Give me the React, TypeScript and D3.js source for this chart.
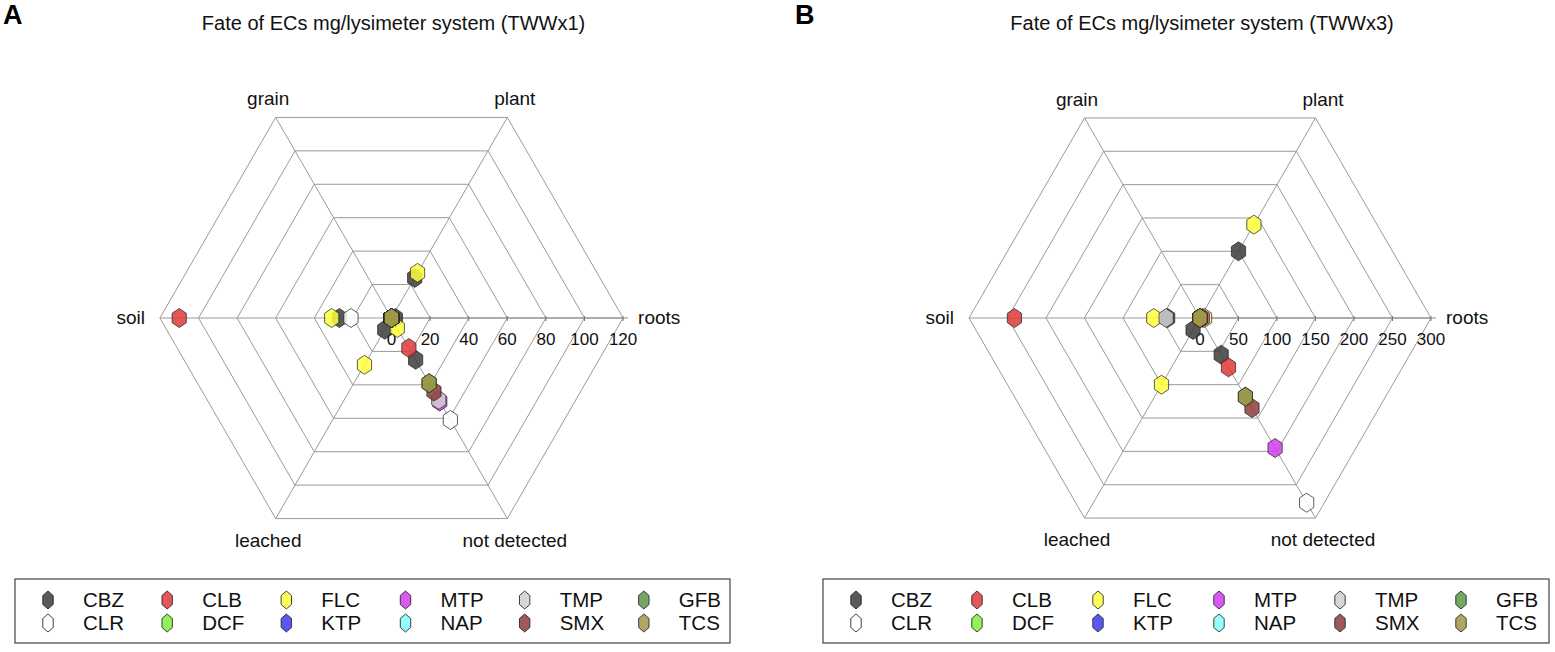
import React from "react";
import * as d3 from "d3";

const axes = ["roots", "plant", "grain", "soil", "leached", "not detected"];
const compounds = ["CBZ", "CLR", "CLB", "DCF", "FLC", "KTP", "MTP", "NAP", "TMP", "SMX", "GFB", "TCS"];
const colors = ["#3c3c3c", "#ffffff", "#e03a3a", "#80f040", "#ffff3c", "#3c3cf0", "#d43cf0", "#80ffff", "#d0d0d0", "#8e3c3c", "#5c9848", "#a09848"];

// Panel A (TWWx1) values per axis, in compound order
const rootsA = [2, 0, 0, 0, 0, 0, 0, 0, 0, 0, 0, 0];
const plantA = [24, 0, 0, 0, 27, 0, 0, 0, 0, 0, 0, 0];
const grainA = [0, 0, 0, 0, 0, 0, 0, 0, 0, 0, 0, 0];
const soilA = [27, 21, 110, 0, 31, 0, 0, 0, 0, 0, 0, 0];
const leachedA = [7, 0, 0, 0, 28, 0, 0, 0, 0, 0, 0, 0];
const notDetectedA = [25, 61, 18, 0, 6, 0, 50, 0, 49, 44, 39, 39];
const ticksA = [0, 20, 40, 60, 80, 100, 120];

// Panel B (TWWx3)
const rootsB = [0, 0, 0, 0, 6, 0, 3, 0, 0, 0, 0, 0];
const plantB = [100, 0, 0, 0, 140, 0, 0, 0, 0, 0, 0, 0];
const grainB = [0, 0, 0, 0, 0, 0, 0, 0, 0, 0, 0, 0];
const soilB = [42, 0, 241, 0, 60, 0, 0, 0, 44, 0, 0, 0];
const leachedB = [18, 0, 0, 0, 100, 0, 0, 0, 0, 0, 0, 0];
const notDetectedB = [55, 277, 74, 0, 0, 0, 195, 0, 0, 135, 118, 118];
const ticksB = [0, 50, 100, 150, 200, 250, 300];

const FONT = "'Liberation Sans', Arial, Helvetica, sans-serif";

function hexPath(x: number, y: number, rx: number, ry: number) {
  const pts: [number, number][] = d3.range(6).map((i) => {
    const a = Math.PI / 2 - (i * Math.PI) / 3;
    return [x + rx * Math.cos(a), y - ry * Math.sin(a)];
  });
  return "M" + pts.map((p) => p[0].toFixed(2) + "," + p[1].toFixed(2)).join("L") + "Z";
}

type PanelProps = {
  letter: string;
  letterX: number;
  title: string;
  cx: number;
  cy: number;
  R: number;
  ticks: number[];
  data: number[][];
  legendX: number;
  legendW: number;
};

function Panel({ letter, letterX, title, cx, cy, R, ticks, data, legendX, legendW }: PanelProps) {
  const max = ticks[ticks.length - 1];
  const r = d3.scaleLinear().domain([0, max]).range([0, R]);
  const ang = (i: number) => (i * Math.PI) / 3;
  const pt = (i: number, v: number): [number, number] => [cx + r(v) * Math.cos(ang(i)), cy - r(v) * Math.sin(ang(i))];
  const ring = (v: number) =>
    "M" + axes.map((_, i) => pt(i, v).map((n) => n.toFixed(2)).join(",")).join("L") + "Z";

  const labelPos = (i: number): { x: number; y: number; anchor: string } => {
    const [vx, vy] = pt(i, max);
    const off = 15;
    const x = vx + off * Math.cos(ang(i));
    const y = vy - off * Math.sin(ang(i));
    if (i === 0) return { x, y: y + 6, anchor: "start" };
    if (i === 3) return { x, y: y + 6, anchor: "end" };
    if (i === 1 || i === 2) return { x, y: y + 1, anchor: "middle" };
    return { x, y: y + 15, anchor: "middle" };
  };

  const legTop = 579;
  const legH = 64;

  return (
    <g>
      <text x={letterX} y={24} fontFamily={FONT} fontWeight="bold" fontSize={27} fill="#000">
        {letter}
      </text>
      <text x={cx + 2} y={30} fontFamily={FONT} fontSize={20} textAnchor="middle" fill="#111">
        {title}
      </text>
      {ticks.slice(1).map((t) => (
        <path key={"ring" + t} d={ring(t)} fill="none" stroke="#9a9a9a" strokeWidth={1} />
      ))}
      {axes.map((a, i) => {
        const [x2, y2] = pt(i, max);
        return <line key={"ax" + a} x1={cx} y1={cy} x2={x2} y2={y2} stroke="#9a9a9a" strokeWidth={1} />;
      })}
      {/* value axis along roots */}
      <line x1={cx} y1={cy} x2={cx + R + 5} y2={cy} stroke="#8a8a8a" strokeWidth={1} />
      {ticks.map((t) => (
        <line key={"tk" + t} x1={cx + r(t)} x2={cx + r(t)} y1={cy - 2} y2={cy + 3} stroke="#777" strokeWidth={1} />
      ))}
      {ticks.map((t) => (
        <text key={"tl" + t} x={cx + r(t)} y={cy + 27} fontFamily={FONT} fontSize={17} textAnchor="middle" fill="#111">
          {t}
        </text>
      ))}
      {axes.map((a, i) => {
        const p = labelPos(i);
        return (
          <text key={"lab" + a} x={p.x} y={p.y} textAnchor={p.anchor} fontFamily={FONT} fontSize={19} fill="#111">
            {a}
          </text>
        );
      })}
      {compounds.map((c, ci) => (
        <g key={"pts" + c}>
          {axes.map((a, ai) => {
            const [x, y] = pt(ai, data[ai][ci]);
            return (
              <path
                key={c + a}
                d={hexPath(x, y, 8.2, 9.5)}
                fill={colors[ci]}
                fillOpacity={0.85}
                stroke="#2a2a2a"
                strokeOpacity={0.85}
                strokeWidth={0.9}
              />
            );
          })}
        </g>
      ))}
      <rect x={legendX} y={legTop} width={legendW} height={legH} fill="#fff" stroke="#444" strokeWidth={1.2} />
      {compounds.map((c, ci) => {
        const col = Math.floor(ci / 2);
        const row = ci % 2;
        const step = legendW / 6;
        const mx = legendX + 33 + col * step;
        const my = legTop + 21 + row * 23;
        return (
          <g key={"leg" + c}>
            <path d={hexPath(mx, my, 6, 9)} fill={colors[ci]} fillOpacity={0.85} stroke="#2a2a2a" strokeWidth={0.9} />
            <text x={mx + 35} y={my + 7} fontFamily={FONT} fontSize={20.5} fill="#111">
              {c}
            </text>
          </g>
        );
      })}
    </g>
  );
}

export default function App() {
  const dataA = [rootsA, plantA, grainA, soilA, leachedA, notDetectedA];
  const dataB = [rootsB, plantB, grainB, soilB, leachedB, notDetectedB];
  return (
    <svg width={1555} height={652} style={{ position: "absolute", left: 0, top: 0, background: "#fff" }}>
      <rect width={1555} height={652} fill="#fff" />
      <Panel
        letter="A"
        letterX={3}
        title="Fate of ECs mg/lysimeter system (TWWx1)"
        cx={391.5}
        cy={318}
        R={231.6}
        ticks={ticksA}
        data={dataA}
        legendX={15}
        legendW={715}
      />
      <Panel
        letter="B"
        letterX={795}
        title="Fate of ECs mg/lysimeter system (TWWx3)"
        cx={1200}
        cy={318}
        R={231}
        ticks={ticksB}
        data={dataB}
        legendX={823}
        legendW={726}
      />
    </svg>
  );
}
